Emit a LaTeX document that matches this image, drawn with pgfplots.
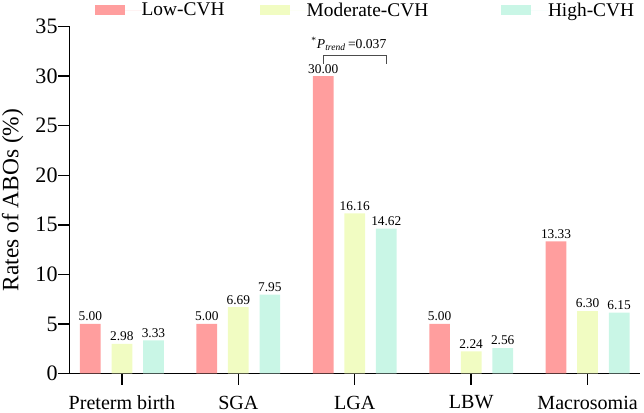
\documentclass[border=0pt]{standalone}
\usepackage{pgfplots}
\pgfplotsset{compat=1.18}
\usepackage{fontspec}
\setmainfont{Liberation Serif}
\definecolor{cLow}{HTML}{FF9E9E}
\definecolor{cMod}{HTML}{F1FCC2}
\definecolor{cHigh}{HTML}{C9F6E6}
\begin{document}
\begin{tikzpicture}
\begin{axis}[
  name=ax,
  scale only axis,
  width=426.75pt, height=259.5pt,
  xmin=-0.45, xmax=4.45,
  ymin=0, ymax=35,
  ytick={0,5,...,35},
  xtick={0,1,2,3,4},
  xticklabels={Preterm birth,SGA,LGA,LBW,Macrosomia},
  axis lines*=left,
  axis line style={line width=1.1pt},
  every tick/.style={line width=1.1pt, black},
  tick align=outside,
  major tick length=8.25pt,
  /pgf/number format/assume math mode=true,
  yticklabel style={font=\fontsize{16.5}{18}\selectfont, inner sep=0.5pt},
  xticklabel style={font=\fontsize{15}{17}\selectfont, inner ysep=2pt, yshift=-6.2pt},
  ylabel={Rates of ABOs (\%)},
  ylabel style={font=\fontsize{17.5}{20}\selectfont, inner sep=1.5pt},
  ylabel shift=6.8pt,
  ybar,
  bar width=15.5pt,
  clip=false,
  nodes near coords={\pgfmathprintnumber[fixed,fixed zerofill,precision=2]{\pgfplotspointmeta}},
  every node near coord/.append style={font=\fontsize{10}{12}\selectfont, inner sep=2pt, black},
  legend columns=3,
  legend style={at={(axis description cs:0.0439,1)}, anchor=west, yshift=12.1pt,
    draw=none, fill=none, inner sep=0pt, font=\fontsize{14.5}{16}\selectfont,
    nodes={inner xsep=0pt, inner ysep=2pt},
    /tikz/every even column/.append style={column sep=0pt}},
  legend cell align=left,
  legend image code/.code={\fill[#1,draw=none] (0pt,-3.75pt) rectangle (22.5pt,3.75pt); \path (0pt,0pt) -- (35pt,0pt);},
]
\addplot[fill=cLow, draw=none, bar shift=-23.6pt] coordinates {(0,5.00) (1,5.00) (2,30.00) (3,5.00) (4,13.33)};
\addlegendentry{\makebox[88.5pt][l]{Low-CVH}}
\addplot[fill=cMod, draw=none, bar shift=0pt] coordinates {(0,2.98) (1,6.69) (2,16.16) (3,2.24) (4,6.30)};
\addlegendentry{\makebox[145.5pt][l]{Moderate-CVH}}
\addplot[fill=cHigh, draw=none, bar shift=23.6pt] coordinates {(0,3.33) (1,7.95) (2,14.62) (3,2.56) (4,6.15)};
\addlegendentry{High-CVH}
\draw[line width=0.6pt, black!70] (axis cs:1.729,31.25) -- (axis cs:1.729,32.1) -- (axis cs:2.271,32.1) -- (axis cs:2.271,31.25);
\node[anchor=base, inner sep=0pt, font=\fontsize{10.2}{12}\selectfont] at (axis cs:1.95,32.8) {\textsuperscript{*}\textit{P}\textsubscript{\textit{trend}}\,=0.037};
\end{axis}
\path (ax.south east) -- ++(3pt,0pt);
\end{tikzpicture}
\end{document}
